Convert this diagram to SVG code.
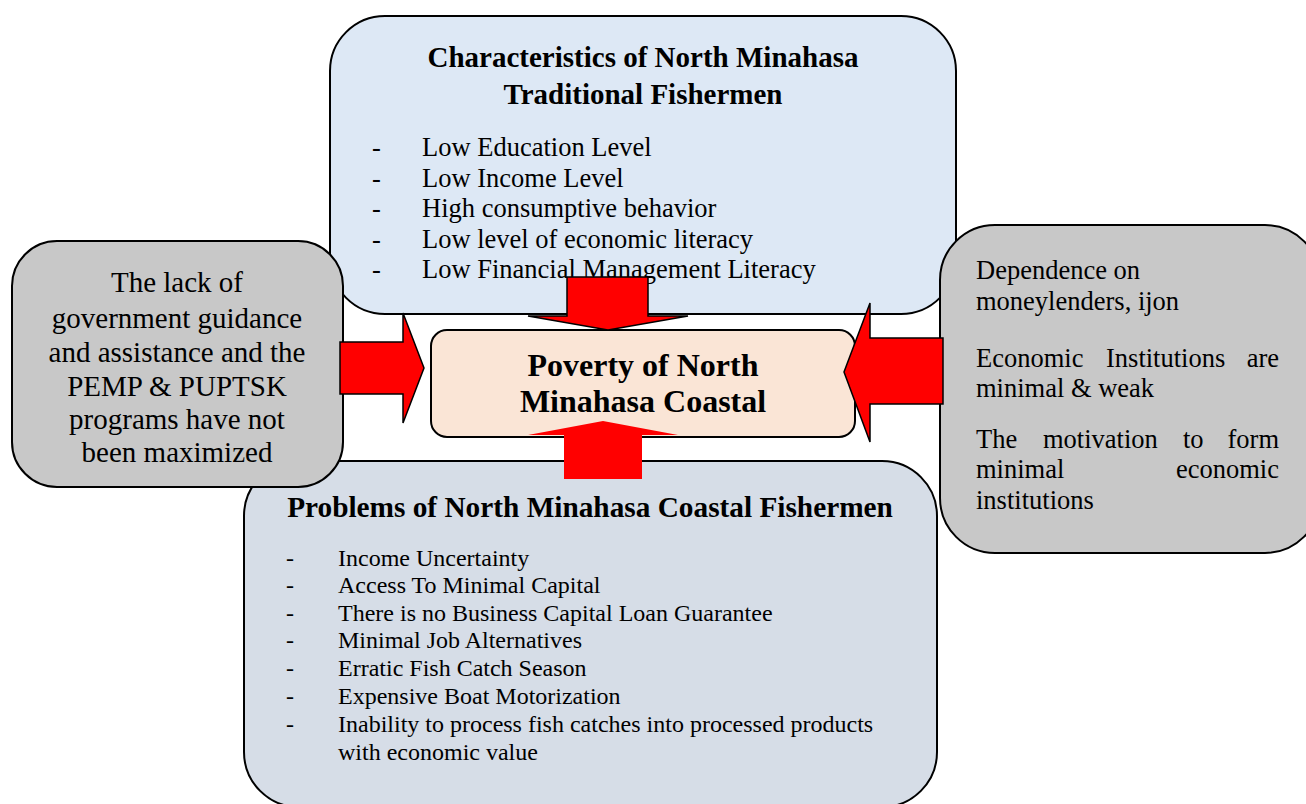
<svg xmlns="http://www.w3.org/2000/svg" width="1306" height="804" viewBox="0 0 1306 804">
  <style>
    .box { stroke: #000; stroke-width: 2; }
    .serif { font-family: "Liberation Serif", "Times New Roman", serif; fill: #000; }
    .title { font-weight: bold; font-size: 29px; text-anchor: middle; }
    .big { font-size: 32px; }
    .item { font-size: 26.5px; }
    .item2 { font-size: 24px; }
    .side { font-size: 29px; text-anchor: middle; }
    .right { font-size: 26.5px; }
    .arrow { fill: #ff0000; stroke: #000; stroke-width: 1.5; stroke-linejoin: miter; }
  </style>

  <!-- characteristics of traditional fishermen -->
  <g id="characteristics" class="serif">
    <rect class="box" x="330" y="16" width="626" height="298" rx="55" ry="55" fill="#dde8f5"/>
    <text class="title" x="643" y="67">Characteristics of North Minahasa</text>
    <text class="title" x="643" y="104">Traditional Fishermen</text>
    <g class="item">
      <text x="372" y="156">-</text><text x="422" y="156">Low Education Level</text>
      <text x="372" y="187">-</text><text x="422" y="187">Low Income Level</text>
      <text x="372" y="217">-</text><text x="422" y="217">High consumptive behavior</text>
      <text x="372" y="248">-</text><text x="422" y="248">Low level of economic literacy</text>
      <text x="372" y="278">-</text><text x="422" y="278">Low Financial Management Literacy</text>
    </g>
  </g>

  <!-- problems of coastal fishermen -->
  <g id="problems" class="serif">
    <rect class="box" x="244" y="461" width="693" height="346" rx="55" ry="55" fill="#d6dde7"/>
    <text class="title" x="590" y="517" style="font-size:29.3px">Problems of North Minahasa Coastal Fishermen</text>
    <g class="item2">
      <text x="286" y="566">-</text><text x="338" y="566">Income Uncertainty</text>
      <text x="286" y="593">-</text><text x="338" y="593">Access To Minimal Capital</text>
      <text x="286" y="621">-</text><text x="338" y="621">There is no Business Capital Loan Guarantee</text>
      <text x="286" y="648">-</text><text x="338" y="648">Minimal Job Alternatives</text>
      <text x="286" y="676">-</text><text x="338" y="676">Erratic Fish Catch Season</text>
      <text x="286" y="704">-</text><text x="338" y="704">Expensive Boat Motorization</text>
      <text x="286" y="732">-</text><text x="338" y="732">Inability to process fish catches into processed products</text>
      <text x="338" y="760">with economic value</text>
    </g>
  </g>

  <!-- government guidance -->
  <g id="government" class="serif">
    <rect class="box" x="12" y="241" width="331" height="246" rx="45" ry="45" fill="#c8c8c8"/>
    <g class="side">
      <text x="177" y="292">The lack of</text>
      <text x="177" y="328">government guidance</text>
      <text x="177" y="362">and assistance and the</text>
      <text x="177" y="396">PEMP &amp; PUPTSK</text>
      <text x="177" y="429">programs have not</text>
      <text x="177" y="462">been maximized</text>
    </g>
  </g>

  <!-- institutional factors -->
  <g id="institutions" class="serif">
    <rect class="box" x="940" y="225" width="380" height="328" rx="55" ry="55" fill="#c8c8c8"/>
    <g class="right">
      <text x="976" y="279">Dependence on</text>
      <text x="976" y="310">moneylenders, ijon</text>
      <text x="976" y="367">Economic</text>
      <text x="1106" y="367">Institutions</text>
      <text x="1279" y="367" text-anchor="end">are</text>
      <text x="976" y="397">minimal &amp; weak</text>
      <text x="976" y="448">The</text>
      <text x="1043" y="448">motivation</text>
      <text x="1183" y="448">to</text>
      <text x="1279" y="448" text-anchor="end">form</text>
      <text x="976" y="478">minimal</text>
      <text x="1279" y="478" text-anchor="end">economic</text>
      <text x="976" y="509">institutions</text>
    </g>
  </g>

  <!-- central outcome -->
  <g id="poverty" class="serif">
    <rect class="box" x="431" y="330" width="424" height="107" rx="16" ry="16" fill="#fae5d6"/>
    <text class="title big" x="643" y="376">Poverty of North</text>
    <text class="title big" x="643" y="412">Minahasa Coastal</text>
  </g>

  <!-- connectors: block arrows into the central box -->
  <g id="connectors">
    <polygon class="arrow" points="567,277 648,277 648,316 688,316 608,330 528,316 567,316"/>
    <polygon fill="#ff0000" points="564,479 642,479 642,435 678,435 603,421 528,435 564,435"/>
    <polygon class="arrow" points="340,342 403,342 403,313 424,368 403,423 403,394 340,394"/>
    <polygon class="arrow" points="943,338 870,338 870,303 844,372 870,442 870,404 943,404"/>
  </g>
</svg>
